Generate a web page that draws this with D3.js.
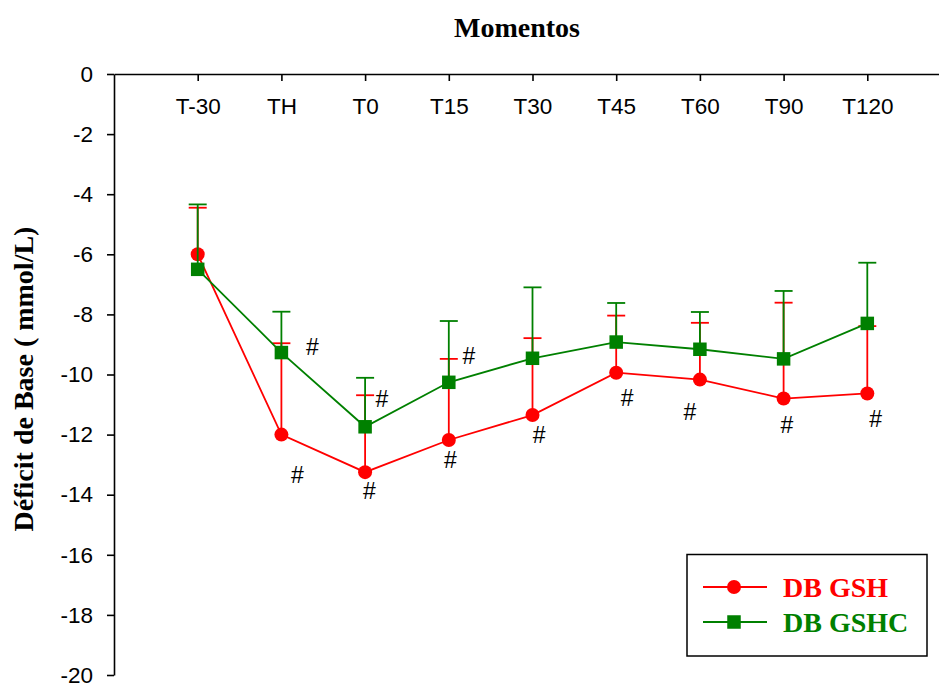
<!DOCTYPE html>
<html>
<head>
<meta charset="utf-8">
<script src="https://cdn.jsdelivr.net/npm/d3@7/dist/d3.min.js"></script>
<style>
  html, body { margin: 0; padding: 0; background: #fff; }
  svg { display: block; }
</style>
</head>
<body>
<script>
// ---- data ----
const categories = ["T-30", "TH", "T0", "T15", "T30", "T45", "T60", "T90", "T120"];
const gshMean  = [-6.00, -12.00, -13.25, -12.18, -11.35, -9.94, -10.17, -10.80, -10.63];
const gshSD    = [ 1.55,   3.04,   2.56,   2.70,   2.56,  1.90,   1.89,   3.19,   2.24];
const gshcMean = [-6.50,  -9.27, -11.74, -10.26,  -9.46, -8.92,  -9.16,  -9.48,  -8.30];
const gshcSD   = [ 2.16,   1.36,   1.63,   2.04,   2.36,  1.30,   1.24,   2.26,   2.02];
const yTicks   = [0, -2, -4, -6, -8, -10, -12, -14, -16, -18, -20];
// significance marks "#": position along category index and value axis
const hashIndex = [2.37, 2.19, 3.20, 3.05, 4.24, 4.02, 5.08, 6.13, 6.88, 8.04, 9.10];
const hashValue = [-9.08, -13.34, -10.82, -13.87, -9.38, -12.85, -12.01, -10.76, -11.24, -11.68, -11.46];
const seriesNames = ["DB GSH", "DB GSHC"];
const seriesColors = ["#ff0000", "#008000"];

// ---- layout ----
const W = 939, H = 683;
const svg = d3.select("body").append("svg").attr("width", W).attr("height", H)
  .style("background", "#fff");

const x = d3.scaleLinear().domain([0, 10]).range([114, 951]);
const y = d3.scaleLinear().domain([-20, 0]).range([675, 74]);

const sans = "'Liberation Sans', Arial, sans-serif";
const serif = "'Liberation Serif', 'Times New Roman', serif";

// top (category) axis
const xAxis = d3.axisBottom(x)
  .tickValues(categories.map((c, i) => i + 1))
  .tickFormat((d) => categories[d - 1])
  .tickSize(7).tickSizeOuter(0).tickPadding(17);
const gx = svg.append("g").attr("transform", `translate(0,${y(0)})`).call(xAxis);
gx.selectAll("text").style("font-family", sans).style("font-size", "22.5px").attr("fill", "#000");
gx.selectAll("path, line").attr("stroke", "#000").attr("stroke-width", 1.6);

// left axis
const yAxis = d3.axisLeft(y).tickValues(yTicks).tickFormat((d) => String(d))
  .tickSize(7).tickSizeOuter(0).tickPadding(14);
const gy = svg.append("g").attr("transform", `translate(${x(0)},0)`).call(yAxis);
gy.selectAll("text").style("font-family", sans).style("font-size", "22.5px").attr("fill", "#000");
gy.selectAll("path, line").attr("stroke", "#000").attr("stroke-width", 1.6);

// title & y label
svg.append("text").attr("x", 517).attr("y", 37).attr("text-anchor", "middle")
  .style("font-family", serif).style("font-weight", "bold").style("font-size", "28px").text("Momentos");
svg.append("text").attr("transform", `translate(33,379) rotate(-90)`).attr("text-anchor", "middle")
  .style("font-family", serif).style("font-weight", "bold").style("font-size", "28px")
  .text("Déficit de Base ( mmol/L)");

// series
const series = [
  { mean: gshMean, sd: gshSD, color: seriesColors[0], shape: "circle" },
  { mean: gshcMean, sd: gshcSD, color: seriesColors[1], shape: "square" }
];
const line = d3.line().x((d, i) => x(i + 1)).y((d) => y(d));
const cap = 9;

series.forEach((s) => {
  const g = svg.append("g");
  g.append("path").datum(s.mean).attr("d", line).attr("fill", "none")
    .attr("stroke", s.color).attr("stroke-width", 1.8);
  s.mean.forEach((m, i) => {
    const cx = x(i + 1), top = y(m + s.sd[i]);
    g.append("line").attr("x1", cx).attr("x2", cx).attr("y1", y(m)).attr("y2", top)
      .attr("stroke", s.color).attr("stroke-width", 1.8);
    g.append("line").attr("x1", cx - cap).attr("x2", cx + cap).attr("y1", top).attr("y2", top)
      .attr("stroke", s.color).attr("stroke-width", 1.8);
  });
  s.mean.forEach((m, i) => {
    const cx = x(i + 1), cy = y(m);
    if (s.shape === "circle") {
      g.append("circle").attr("cx", cx).attr("cy", cy).attr("r", 7).attr("fill", s.color);
    } else {
      g.append("rect").attr("x", cx - 6.75).attr("y", cy - 6.75).attr("width", 13.5).attr("height", 13.5)
        .attr("fill", s.color);
    }
  });
});

// hash marks
hashIndex.forEach((xi, k) => {
  svg.append("text").attr("x", x(xi)).attr("y", y(hashValue[k])).attr("dy", "0.36em")
    .attr("text-anchor", "middle")
    .style("font-family", sans).style("font-size", "23px")
    .text("#");
});

// legend
const lg = svg.append("g");
lg.append("rect").attr("x", 687).attr("y", 554.5).attr("width", 240).attr("height", 101.5)
  .attr("fill", "#fff").attr("stroke", "#000").attr("stroke-width", 1.5);
const rowsY = [587, 622];
series.forEach((s, i) => {
  const ry = rowsY[i];
  lg.append("line").attr("x1", 703).attr("x2", 767).attr("y1", ry).attr("y2", ry)
    .attr("stroke", s.color).attr("stroke-width", 1.8);
  if (s.shape === "circle") {
    lg.append("circle").attr("cx", 734).attr("cy", ry).attr("r", 7).attr("fill", s.color);
  } else {
    lg.append("rect").attr("x", 734 - 6.75).attr("y", ry - 6.75).attr("width", 13.5).attr("height", 13.5)
      .attr("fill", s.color);
  }
  lg.append("text").attr("x", 783).attr("y", ry + 10).attr("fill", s.color)
    .style("font-family", serif).style("font-weight", "bold").style("font-size", "28px").text(seriesNames[i]);
});
</script>
</body>
</html>
